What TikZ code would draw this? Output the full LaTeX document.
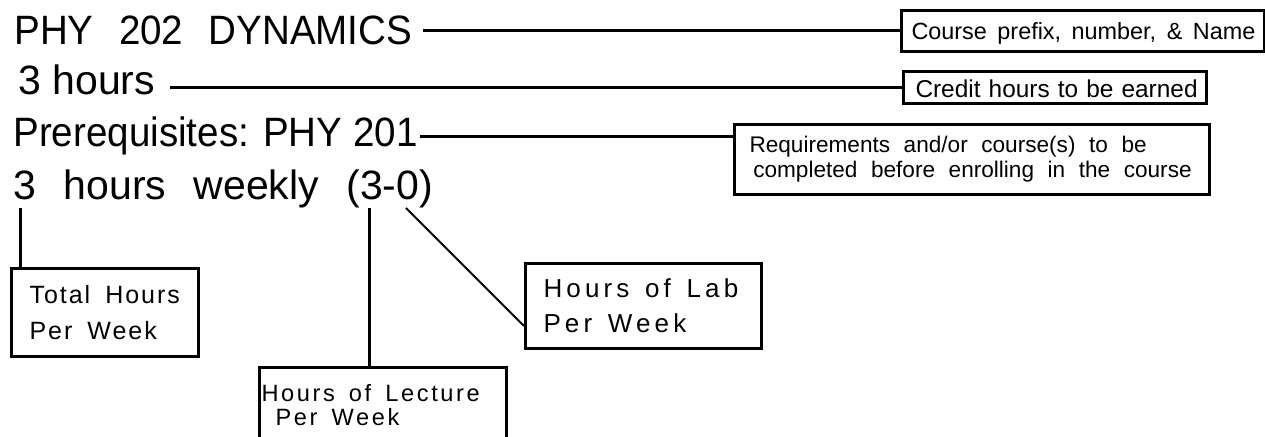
\documentclass[tikz,border=0pt]{standalone}
\usepackage{fontspec}
\setmainfont{Liberation Sans}
\usetikzlibrary{positioning}

\tikzset{
  entry/.style={anchor=base west, inner sep=0pt,
    font=\fontsize{20.5}{24}\selectfont\addfontfeature{FakeStretch=0.94}},
  note/.style={draw, line width=1.5pt, anchor=north west, inner ysep=0pt, align=left},
  lead/.style={line width=1.5pt},
}
\newcommand{\widesp}[1][0.6em]{\spaceskip=#1 plus 0.1em\relax}

\begin{document}
\begin{tikzpicture}[x=0.5pt, y=-0.5pt]
  \useasboundingbox (0,0) rectangle (1265,437);
  \clip (0,0) rectangle (1265,437);

  % the listing itself
  \node[entry] (title) at (14,45) {\widesp[0.62em]PHY 202 DYNAMICS};
  \node[entry, font=\fontsize{20.5}{24}\selectfont] (hours) at (18,95) {3 hours};
  \node[entry] (prereq) at (13,147) {Prerequisites: PHY 201};
  \node[entry, font=\fontsize{20.5}{24}\selectfont] (weekly) at (13,200) {\widesp[0.67em]3 hours weekly (3-0)};

  % notes on the right
  \node[note, inner xsep=5pt, text width=171.5pt, text height=14.5pt, text depth=6pt,
        font=\fontsize{11.7}{13}\selectfont] (course) at (900,9) {\mbox{\widesp[0.45em]Course prefix, number, \& Name}};
  \node[note, inner xsep=6pt, text width=139.5pt, text height=13pt, text depth=3pt,
        font=\fontsize{12.2}{14}\selectfont] (credits) at (902,70) {\mbox{Credit hours to be earned}};
  \node[note, inner xsep=7.5pt, text width=222.5pt, minimum height=35pt,
        font=\fontsize{11.3}{12.5}\selectfont] (require) at (733,123)
        {\widesp Requirements and/or course(s) to be\\ \,completed before enrolling in the course};

  % notes below
  \node[note, inner xsep=9pt, text width=75.5pt, minimum height=44pt,
        font=\fontsize{12.5}{18}\selectfont\addfontfeature{LetterSpace=8}] (total) at (10,267)
        {\widesp Total Hours\\Per Week};
  \node[note, inner xsep=1pt, inner ysep=8.5pt, text width=121.5pt,
        font=\fontsize{11.8}{12}\selectfont\addfontfeature{LetterSpace=11}] (lecture) at (258,366)
        {\widesp Hours of Lecture\\ \ Per Week};
  \node[note, inner xsep=9pt, text width=100pt, minimum height=42.5pt,
        font=\fontsize{13}{17.5}\selectfont\addfontfeature{LetterSpace=16}] (lab) at (524,262)
        {\widesp Hours of Lab\\Per Week};

  % leaders
  \draw[lead] ([xshift=5pt]title.east) -- (title.east -| course.west);
  \draw[lead] ([xshift=7pt]hours.east |- credits.west) -- (credits.west);
  \draw[lead] ([xshift=1pt]prereq.east) -- (prereq.east -| require.west);

  \coordinate (tot) at (20,208);
  \coordinate (lec) at (369,208);
  \coordinate (lb) at (406,208);
  \draw[lead] (tot) -- (tot |- total.north);
  \draw[lead] (lec) -- (lec |- lecture.north);
  \draw[line width=1pt] (lb) -- ([yshift=-10pt]lab.west);
\end{tikzpicture}
\end{document}
